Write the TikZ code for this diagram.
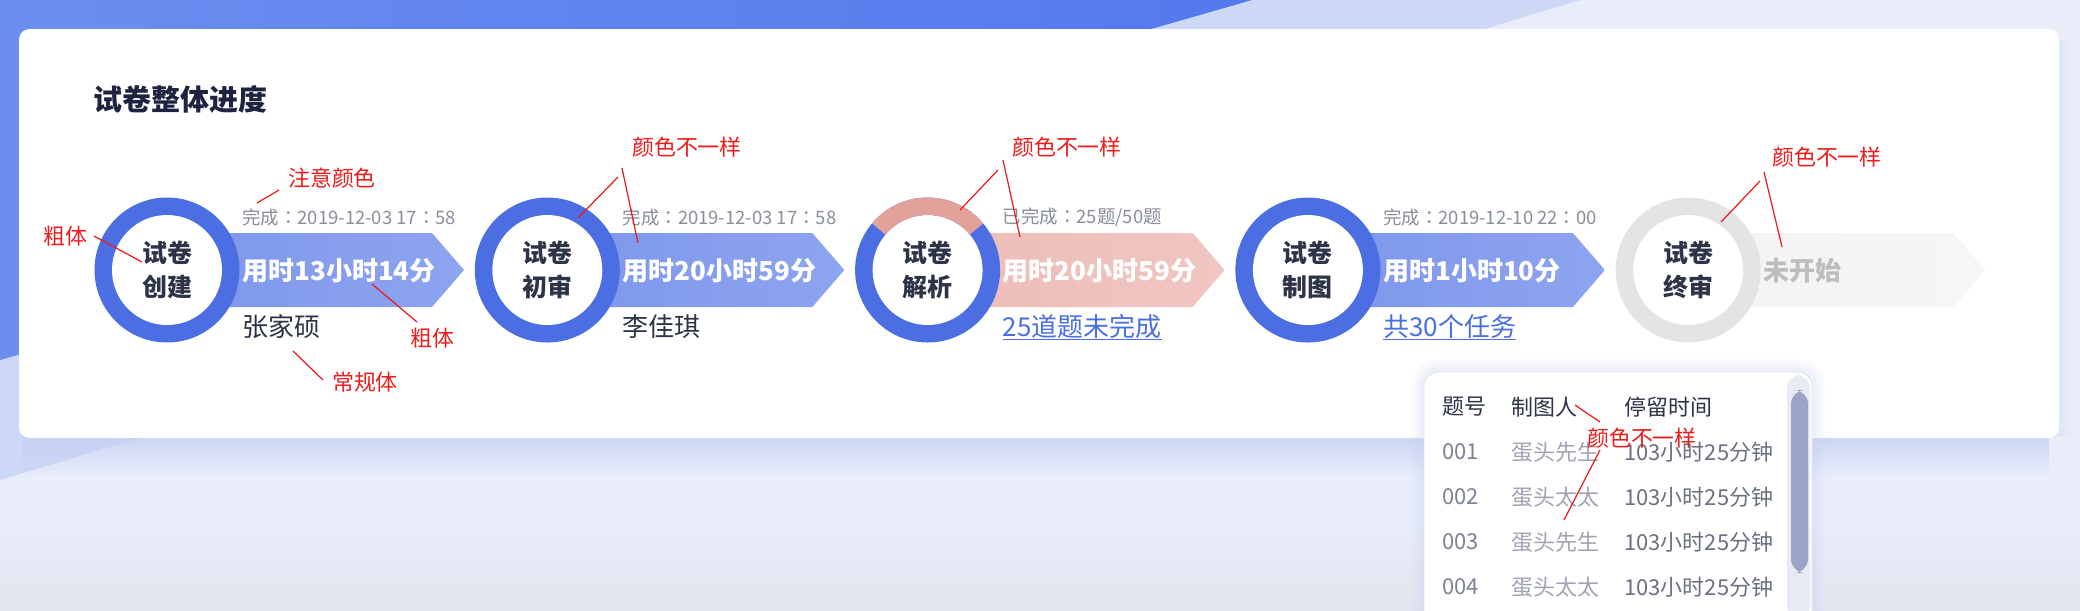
\documentclass[tikz,border=0pt]{standalone}
\usepackage{fontspec}
\setmainfont{Noto Sans CJK SC}
\newfontfamily\tcfont{Noto Sans CJK TC}
\newcommand\fwc{{\tcfont ：}}
\usepackage{xcolor}
\usetikzlibrary{positioning,calc,fadings}
\definecolor{ringblue}{HTML}{4B6FE2}
\definecolor{bandblueL}{HTML}{7D96EA}
\definecolor{bandblueR}{HTML}{8DA4EF}
\definecolor{ringpink}{HTML}{E3A19C}
\definecolor{bandpinkL}{HTML}{EDBDB9}
\definecolor{bandpinkR}{HTML}{F0C6C2}
\definecolor{ringgray}{HTML}{E4E4E4}
\definecolor{bandgrayL}{HTML}{F3F3F4}
\definecolor{bandgrayR}{HTML}{F6F6F7}
\definecolor{navy}{HTML}{1D2340}
\definecolor{inkdark}{HTML}{2E3448}
\definecolor{inkgray}{HTML}{898E9B}
\definecolor{idle}{HTML}{BDBDBD}
\definecolor{linkblue}{HTML}{4A6FE3}
\definecolor{notered}{HTML}{EC1C1C}
\definecolor{pagebg}{HTML}{E9EDFA}
\definecolor{pagelow}{HTML}{E2E5EF}
\definecolor{topblueL}{HTML}{6B8EF0}
\definecolor{topblueR}{HTML}{5479ED}
\definecolor{paleblue}{HTML}{CDD8F6}
\definecolor{cardshade}{HTML}{C6D0F2}
\definecolor{tipline}{HTML}{DDE1EC}
\definecolor{track}{HTML}{E8EBF3}
\definecolor{thumb}{HTML}{9BA4C6}
\definecolor{cellnum}{HTML}{7D8294}
\definecolor{cellname}{HTML}{A0A4B3}
\definecolor{celltime}{HTML}{6B7083}

\begin{document}
\begin{tikzpicture}[x=0.02cm,y=0.02cm]
\useasboundingbox (0,0) rectangle (2080,-610);
\def\xA{167} \def\xB{547.3} \def\xC{927.6} \def\xD{1307.9} \def\xE{1688.2}
\tikzset{ann/.style={notered,inner sep=0pt,font=\fontsize{12.5}{15}\selectfont}}
\tikzset{lead/.style={notered,line width=0.7pt}}
\tikzset{stamp/.style={anchor=west,inner sep=0pt,inkgray,font=\fontsize{10.5}{12}\selectfont}}
\tikzset{took/.style={anchor=west,inner sep=0pt,white,font=\bfseries\fontsize{14.8}{18}\selectfont}}
\tikzset{who/.style={anchor=west,inner sep=0pt,inkdark,font=\fontsize{14.8}{18}\selectfont}}
\tikzset{lnk/.style={anchor=west,inner sep=0pt,linkblue,font=\fontsize{14.8}{18}\selectfont}}
\tikzset{stage/.style={align=center,inner sep=0pt,inkdark,font=\bfseries\fontsize{14.2}{19.3}\selectfont}}
\tikzset{cell/.style={anchor=west,inner sep=0pt,font=\fontsize{12.5}{15}\selectfont}}
% page background
\fill[pagebg] (0,0) rectangle (2080,-610);
\shade[top color=pagebg,bottom color=pagelow] (0,-520) rectangle (2080,-610);
\fill[paleblue] (0,0) -- (1580,0) -- (0,-480) -- cycle;
\shade[left color=topblueL,right color=topblueR] (0,0) -- (1252,0) -- (0,-360) -- cycle;
% card
\fill[cardshade,path fading=south] (24,-430) rectangle (2054,-476);
\fill[cardshade,opacity=0.3,path fading=east] (2056,-40) rectangle (2074,-436);
\fill[white,rounded corners=6] (19,-29) rectangle (2059,-438);
\node[anchor=west,inner sep=0pt,navy,font=\bfseries\fontsize{16.5}{20}\selectfont] (title) at (93,-99) {试卷整体进度};
% stages
\foreach \x/\i/\lbl/\bl/\br/\rc in {\xA/1/{试卷\\创建}/bandblueL/bandblueR/ringblue,
    \xB/2/{试卷\\初审}/bandblueL/bandblueR/ringblue,
    \xC/3/{试卷\\解析}/bandpinkL/bandpinkR/ringblue,
    \xD/4/{试卷\\制图}/bandblueL/bandblueR/ringblue,
    \xE/5/{试卷\\终审}/bandgrayL/bandgrayR/ringgray} {
  \coordinate (c\i) at (\x,-270);
  \shade[left color=\bl,right color=\br] (\x,-233) -- (\x+265,-233) -- (\x+297,-270) -- (\x+265,-307) -- (\x,-307) -- cycle;
  \fill[\rc] (c\i) circle (72.5);
  \fill[white] (c\i) circle (55);
  \node[stage] (s\i) at (c\i) {\lbl};
}
\fill[ringpink] ($(c3)+(40:72.5)$) arc (40:140:72.5) -- ($(c3)+(140:55)$) arc (140:40:55) -- cycle;
% stage texts
\node[stamp] (t1) at (\xA+75,-217) {完成\fwc 2019-12-03 17\fwc 58};
\node[stamp] (t2) at (\xB+75,-217) {完成\fwc 2019-12-03 17\fwc 58};
\node[stamp] (t3) at (\xC+75,-217) {已完成\fwc 25题/50题};
\node[stamp] (t4) at (\xD+75,-217) {完成\fwc 2019-12-10 22\fwc 00};
\node[took] (u1) at (\xA+75,-271) {用时13小时14分};
\node[took] (u2) at (\xB+75,-271) {用时20小时59分};
\node[took] (u3) at (\xC+75,-271) {用时20小时59分};
\node[took] (u4) at (\xD+75,-271) {用时1小时10分};
\node[took,idle] (u5) at (\xE+75,-271) {未开始};
\node[who] (w1) at (\xA+75,-327) {张家硕};
\node[who] (w2) at (\xB+75,-327) {李佳琪};
\node[lnk] (l3) at (\xC+75,-327) {25道题未完成};
\node[lnk] (l4) at (\xD+75,-327) {共30个任务};
\draw[linkblue,line width=0.7pt] (l3.south west) -- (l3.south east);
\draw[linkblue,line width=0.7pt] (l4.south west) -- (l4.south east);
% tooltip
\foreach \w in {14,9,5}
  \draw[cardshade,opacity=0.1,line width=\w pt,rounded corners=8] (1424,-620) -- (1424,-372) -- (1812,-372) -- (1812,-620);
\draw[tipline,fill=white,rounded corners=8] (1424,-620) -- (1424,-372) -- (1812,-372) -- (1812,-620);
\fill[track,rounded corners=8] (1787,-620) rectangle (1810,-375);
\fill[thumb,rounded corners=8] (1791,-390) rectangle (1808,-573);
\node[cell,inkdark] (h1) at (1442,-407) {题号};
\node[cell,inkdark] (h2) at (1511,-407) {制图人};
\node[cell,inkdark] (h3) at (1624,-407) {停留时间};
\foreach \r/\id/\nm in {1/001/蛋头先生, 2/002/蛋头太太, 3/003/蛋头先生, 4/004/蛋头太太} {
  \node[cell,cellnum] (id\r) at (1442,-407-45*\r) {\id};
  \node[cell,cellname] (nm\r) at (1511,-407-45*\r) {\nm};
  \node[cell,celltime] (tm\r) at (1624,-407-45*\r) {103小时25分钟};
}
% red notes
\node[ann] (n1) at (332,-178) {注意颜色};
\node[ann] (n2) at (65,-236) {粗体};
\node[ann] (n3) at (432,-338) {粗体};
\node[ann] (n4) at (365,-382) {常规体};
\node[ann] (n5) at (687,-147) {颜色不一样};
\node[ann] (n6) at (1067,-147) {颜色不一样};
\node[ann] (n7) at (1827,-157) {颜色不一样};
\node[ann] (n8) at (1642,-438) {颜色不一样};
\coordinate (p1a) at (257,-203); \coordinate (p1b) at (279,-190);
\coordinate (p2a) at (94,-236);  \coordinate (p2b) at (142,-262);
\coordinate (p3a) at (372,-284); \coordinate (p3b) at (417,-322);
\coordinate (p4a) at (293,-351); \coordinate (p4b) at (323,-380);
\coordinate (p5a) at (618,-177); \coordinate (p5b) at (578,-218);
\coordinate (p5c) at (622,-168); \coordinate (p5d) at (638,-243);
\coordinate (p6a) at (998,-170); \coordinate (p6b) at (960,-210);
\coordinate (p6c) at (1003,-160); \coordinate (p6d) at (1020,-237);
\coordinate (p7a) at (1760,-181); \coordinate (p7b) at (1721,-222);
\coordinate (p7c) at (1764,-172); \coordinate (p7d) at (1782,-247);
\coordinate (p8a) at (1575,-405); \coordinate (p8b) at (1600,-422);
\coordinate (p8c) at (1600,-450); \coordinate (p8d) at (1564,-520);
\foreach \a/\b in {p1a/p1b, p2a/p2b, p3a/p3b, p4a/p4b, p5a/p5b, p5c/p5d, p6a/p6b, p6c/p6d, p7a/p7b, p7c/p7d, p8a/p8b, p8c/p8d}
  \draw[lead] (\a) -- (\b);
\end{tikzpicture}
\end{document}
